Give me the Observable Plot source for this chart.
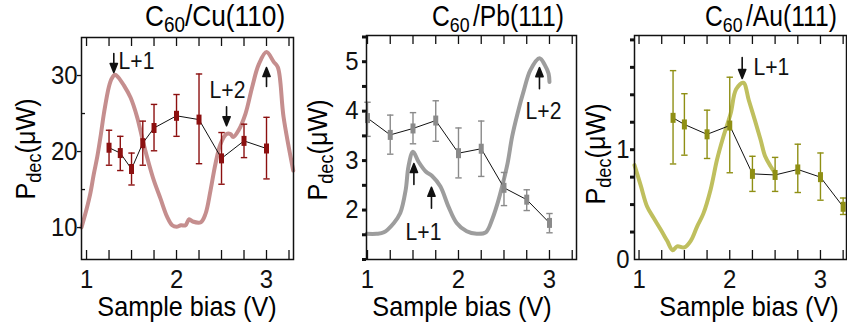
<!DOCTYPE html>
<html><head><meta charset="utf-8">
<script src="https://cdn.jsdelivr.net/npm/d3@7"></script>
<script src="https://cdn.jsdelivr.net/npm/@observablehq/plot@0.6"></script>
<style>
html,body{margin:0;padding:0;background:#fff;}
#root{position:relative;width:847px;height:327px;overflow:hidden;font-family:"Liberation Sans",Arial,Helvetica,sans-serif;color:#000;}
.panel{position:absolute;top:0;}
.lbl{position:absolute;white-space:nowrap;line-height:1;}
.sub{font-size:0.72em;position:relative;top:0.28em;}
</style></head><body><div id="root"></div>
<script>
// ---------- DATA ----------
const xTickLabels = [1, 2, 3];
const xMinorTicks = [1, 1.25, 1.5, 1.75, 2, 2.25, 2.5, 2.75, 3, 3.25];
const xLabelText = "Sample bias (V)";
const yLabelMain = "P", yLabelSub = "dec", yLabelRest = "(μW)";
const titleMain = ["C", "C", "C"];
const titleSub = ["60", "60", "60"];
const titleRest = ["/Cu(110)", "/Pb(111)", "/Au(111)"];

// C60/Cu(110) spectrum (bias V, signal)
const cuCurveBias = [0.944,1.0,1.044,1.08,1.119,1.16,1.193,1.248,1.28,1.315,1.35,1.415,1.489,1.563,1.626,1.693,1.748,1.822,1.896,1.952,2.0,2.05,2.1,2.14,2.18,2.27,2.322,2.378,2.433,2.489,2.556,2.6,2.63,2.69,2.767,2.841,2.915,3.0,3.08,3.126,3.19,3.297];
const cuCurveValue = [10.0,12.4,14.6,17.0,19.3,22.3,25.0,28.5,29.6,30.1,29.8,28.7,27.1,24.5,21.4,18.4,16.2,13.8,11.4,10.3,10.1,10.3,10.3,11.1,10.8,10.7,11.8,14.9,18.4,21.0,22.3,22.3,21.9,22.8,25.0,28.5,31.5,33.1,31.8,31.1,24.5,17.5];
// C60/Cu(110) P_dec points
const cuBias = [1.25,1.375,1.5,1.625,1.75,2.0,2.25,2.5,2.75,3.0];
const cuP = [20.5,19.8,17.7,21.1,23.1,24.7,24.2,19.1,21.4,20.4];
const cuLow = [18.2,17.5,15.6,18.2,20.1,22.0,18.4,15.7,19.2,16.4];
const cuHigh = [22.8,22.0,19.8,24.0,26.2,27.5,30.2,22.5,23.6,24.5];
const cuYTicks = [10, 20, 30];
const cuYMinor = [15, 25];
const cuNoteText = ["L+1", "L+2"];
const cuNoteBias = [1.356, 2.367];
const cuNoteValue = [30.9, 27.1];
const cuArrowBias = [1.303, 2.556, 3.0];
const cuArrowValue = [30.4, 23.4, 31.05];
const cuArrowDir = ["down", "down", "up"];

// C60/Pb(111)
const pbCurveBias = [0.99,1.1,1.18,1.29,1.36,1.42,1.45,1.50,1.56,1.64,1.71,1.80,1.89,1.98,2.09,2.2,2.30,2.37,2.43,2.48,2.54,2.59,2.65,2.72,2.79,2.89,2.95,2.99,3.0];
const pbCurveValue = [1.52,1.52,1.55,1.74,1.94,2.41,2.88,3.18,2.98,2.78,2.69,2.48,2.07,1.74,1.57,1.52,1.55,1.81,2.14,2.48,2.95,3.49,3.96,4.43,4.83,5.07,4.93,4.76,4.59];
const pbBias = [1.0,1.25,1.5,1.75,2.0,2.25,2.5,2.75,3.0];
const pbP = [3.86,3.52,3.65,3.81,3.15,3.24,2.45,2.21,1.74];
const pbLow = [3.49,3.13,3.34,3.39,2.65,2.68,2.09,1.99,1.54];
const pbHigh = [4.18,3.92,3.97,4.21,3.66,3.80,2.76,2.41,1.93];
const pbYTicks = [2, 3, 4, 5];
const pbYDots = [1, 1.5, 2, 2.5, 3, 3.5, 4, 4.5, 5, 5.5];
const pbNoteText = ["L+1", "L+2"];
const pbNoteBias = [1.615, 2.934];
const pbNoteValue = [1.39, 3.85];
const pbArrowBias = [1.51, 1.703, 2.89];
const pbArrowValue = [2.94, 2.46, 4.88];
const pbArrowDir = ["up", "up", "up"];

// C60/Au(111)
const auCurveBias = [0.95,1.02,1.09,1.16,1.24,1.31,1.37,1.42,1.5,1.57,1.64,1.71,1.79,1.86,1.93,2.01,2.07,2.15,2.21,2.28,2.34,2.39,2.45,2.49];
const auCurveValue = [0.86,0.67,0.48,0.38,0.27,0.17,0.085,0.12,0.11,0.17,0.30,0.42,0.64,0.91,1.12,1.33,1.55,1.61,1.45,1.26,1.09,0.94,0.85,0.80];
const auBias = [1.375,1.5,1.75,2.0,2.25,2.5,2.75,3.0,3.25];
const auP = [1.29,1.23,1.14,1.22,0.78,0.77,0.82,0.75,0.48];
const auLow = [0.87,0.95,0.92,0.79,0.62,0.62,0.61,0.54,0.41];
const auHigh = [1.72,1.51,1.36,1.66,0.94,0.93,1.05,0.97,0.56];
const auYTicks = [0, 1];
const auYDots = [0.25, 0.5, 0.75, 1, 1.25, 1.5, 1.75, 2];
const auNoteText = ["L+1"];
const auNoteBias = [2.262];
const auNoteValue = [1.676];
const auArrowBias = [2.137];
const auArrowValue = [1.648];
const auArrowDir = ["down"];

// ---------- HELPERS ----------
const zip = (xs, ys) => xs.map((x, i) => ({x, y: ys[i]}));
const errRows = (b, v, lo, hi) => b.map((x, i) => ({x, y: v[i], lo: lo[i], hi: hi[i]}));
const noteRows = (t, b, v) => t.map((s, i) => ({text: s, x: b[i], y: v[i]}));
const arrowRows = (b, v, d) => b.map((x, i) => ({x, y: v[i], dir: d[i]}));

const arrowShape = {draw(ctx, l) { ctx.moveTo(0, 0); ctx.lineTo(0, -l + 7); ctx.moveTo(0, -l); ctx.lineTo(-3.6, -l + 9); ctx.lineTo(3.6, -l + 9); ctx.closePath(); }};
const barSymbol = {draw(ctx) { ctx.rect(-2.5, -5, 5, 10); }};
const capSymbol = {draw(ctx) { ctx.moveTo(-3.2, 0); ctx.lineTo(3.2, 0); }};

const root = document.getElementById("root");
const H = 300, MB = 41;

function buildPanel(p) {
  const fh = H - p.mt - MB;          // frame height (px)
  const fw = p.width - p.ml - p.mr;  // frame width (px)
  const [x0, x1] = p.xDomain, [y0, y1] = p.yDomain;
  const kx = (x1 - x0) / fw, ky = (y1 - y0) / fh;  // data units per pixel
  const TL = 9;                                   // x tick length (px)
  const xTicksBottom = xMinorTicks.map(v => ({x: v, a: y0, b: y0 + TL * ky}));
  const xTicksTop = xMinorTicks.map(v => ({x: v, a: y1, b: y1 - TL * ky}));
  const yTicksOut = p.yOut.map(v => ({y: v, a: x0 - p.yOutLen * kx, b: x0}));
  const yTicksIn = p.yIn.map(v => ({y: v, a: x0, b: x0 + 4 * kx}));
  const err = errRows(p.bias, p.val, p.lo, p.hi);
  const marks = [
    Plot.line(zip(p.curveBias, p.curveValue), {x: "x", y: "y", stroke: p.curveColor, strokeWidth: 4, curve: "catmull-rom", strokeLinejoin: "round"}),
    Plot.ruleX(err, {x: "x", y1: "lo", y2: "hi", stroke: p.errColor, strokeWidth: 1.4}),
    Plot.dot(err, {x: "x", y: "lo", symbol: capSymbol, stroke: p.errColor, fill: "none", strokeWidth: 1.4}),
    Plot.dot(err, {x: "x", y: "hi", symbol: capSymbol, stroke: p.errColor, fill: "none", strokeWidth: 1.4}),
    Plot.line(err, {x: "x", y: "y", stroke: "#111", strokeWidth: 1}),
    Plot.dot(err, {x: "x", y: "y", symbol: barSymbol, fill: p.errColor, stroke: "none"}),
    Plot.vector(arrowRows(p.arrowBias, p.arrowValue, p.arrowDir), {x: "x", y: "y", rotate: d => d.dir === "up" ? 0 : 180, length: p.arrowLen, anchor: "end", shape: arrowShape, fill: "#111", stroke: "#111", strokeWidth: 1.6}),
    Plot.text(noteRows(p.noteText, p.noteBias, p.noteValue), {x: "x", y: "y", text: "text", textAnchor: p.noteAnchor, lineAnchor: "bottom", fontSize: 23, fill: "#111"}),
    Plot.frame({stroke: "#111", strokeWidth: 1.5}),
    Plot.axisX({ticks: xTickLabels, tickSize: 0, tickPadding: 10, label: null, tickFormat: d => String(d)}),
    Plot.axisY({ticks: p.yTicks, tickSize: 0, tickPadding: p.padY, label: null, tickFormat: d => String(d)}),
    // ticks: inward on x (bottom & top), outward / inward on y
    Plot.ruleX(xTicksBottom, {x: "x", y1: "a", y2: "b", stroke: "#111", strokeWidth: 1.3}),
    Plot.ruleX(xTicksTop, {x: "x", y1: "a", y2: "b", stroke: "#111", strokeWidth: 1.3}),
    Plot.ruleY(yTicksOut, {y: "y", x1: "a", x2: "b", stroke: "#111", strokeWidth: p.yOutWidth}),
    Plot.ruleY(yTicksIn, {y: "y", x1: "a", x2: "b", stroke: "#111", strokeWidth: 1.3})
  ];
  const svg = Plot.plot({
    width: p.width, height: H,
    marginLeft: p.ml, marginRight: p.mr, marginTop: p.mt, marginBottom: MB,
    x: {domain: p.xDomain},
    y: {domain: p.yDomain},
    style: {fontFamily: "'Liberation Sans', Arial, Helvetica, sans-serif", fontSize: "26px", background: "transparent", overflow: "visible", color: "#111"},
    marks
  });
  svg.querySelectorAll("text").forEach(t => {
    t.setAttribute("transform", (t.getAttribute("transform") || "") + " scale(0.92,1)");
  });
  const wrap = document.createElement("div");
  wrap.className = "panel";
  wrap.style.left = p.left + "px";
  wrap.appendChild(svg);
  root.appendChild(wrap);
}

buildPanel({
  left: 0, width: 300, ml: 81, mr: 7, mt: 37,
  xDomain: [0.944, 3.3], yDomain: [5.8, 35], yTicks: cuYTicks, padY: 4,
  yOut: cuYTicks, yOutLen: 4, yOutWidth: 1.3, yIn: cuYMinor,
  curveBias: cuCurveBias, curveValue: cuCurveValue, curveColor: "#c58e8e",
  bias: cuBias, val: cuP, lo: cuLow, hi: cuHigh, errColor: "#8c1010",
  noteText: cuNoteText, noteBias: cuNoteBias, noteValue: cuNoteValue, noteAnchor: "start",
  arrowBias: cuArrowBias, arrowValue: cuArrowValue, arrowDir: cuArrowDir, arrowLen: 19
});
buildPanel({
  left: 300, width: 280, ml: 66, mr: 4, mt: 35,
  xDomain: [0.989, 3.297], yDomain: [1, 5.53], yTicks: pbYTicks, padY: 8,
  yOut: pbYDots, yOutLen: 4, yOutWidth: 3, yIn: [],
  curveBias: pbCurveBias, curveValue: pbCurveValue, curveColor: "#9d9d9d",
  bias: pbBias, val: pbP, lo: pbLow, hi: pbHigh, errColor: "#8a8a8a",
  noteText: pbNoteText, noteBias: pbNoteBias, noteValue: pbNoteValue, noteAnchor: "middle",
  arrowBias: pbArrowBias, arrowValue: pbArrowValue, arrowDir: pbArrowDir, arrowLen: 21
});
buildPanel({
  left: 580, width: 267, ml: 54, mr: 1, mt: 35,
  xDomain: [0.95, 3.287], yDomain: [0, 2.04], yTicks: auYTicks, padY: 5,
  yOut: auYDots, yOutLen: 4, yOutWidth: 3, yIn: [],
  curveBias: auCurveBias, curveValue: auCurveValue, curveColor: "#bfbf5e",
  bias: auBias, val: auP, lo: auLow, hi: auHigh, errColor: "#8f8f14",
  noteText: auNoteText, noteBias: auNoteBias, noteValue: auNoteValue, noteAnchor: "start",
  arrowBias: auArrowBias, arrowValue: auArrowValue, arrowDir: auArrowDir, arrowLen: 21
});

// ---------- TEXT LABELS (titles, axis labels) ----------
function addHTML(html, css) {
  const d = document.createElement("div");
  d.className = "lbl";
  d.innerHTML = html;
  Object.assign(d.style, css);
  root.appendChild(d);
  return d;
}
const titleLeft = [145, 432, 705];
const titleBase = [26, 27, 27];
const titleSize = [30, 29, 29];
const titleScale = [0.875, 0.85, 0.85];
const titleGap = [0, 4, 4];
titleMain.forEach((m, i) => {
  addHTML(`${m}<span class="sub">${titleSub[i]}</span><span style="margin-left:${titleGap[i]}px">${titleRest[i]}</span>`, {
    left: titleLeft[i] + "px", top: (titleBase[i] - 0.8465 * titleSize[i]) + "px",
    fontSize: titleSize[i] + "px", transformOrigin: "0 0", transform: `scaleX(${titleScale[i]})`
  });
});
const xLabCenter = [187, 462, 749];
xLabCenter.forEach(cx => {
  addHTML(xLabelText, {left: cx + "px", top: (317 - 0.8465 * 28) + "px", fontSize: "28px",
    transformOrigin: "0 0", transform: "scaleX(0.9) translateX(-50%)"});
});
const yLabBase = [36, 328, 606];
const yLabCenter = [149, 150, 154];
yLabBase.forEach((bx, i) => {
  addHTML(`${yLabelMain}<span class="sub">${yLabelSub}</span>${yLabelRest}`, {
    left: bx + "px", top: yLabCenter[i] + "px", fontSize: "28px",
    transformOrigin: "0 0", transform: "rotate(-90deg) scaleX(0.9) translate(-50%, -0.8465em)"});
});
</script></body></html>
